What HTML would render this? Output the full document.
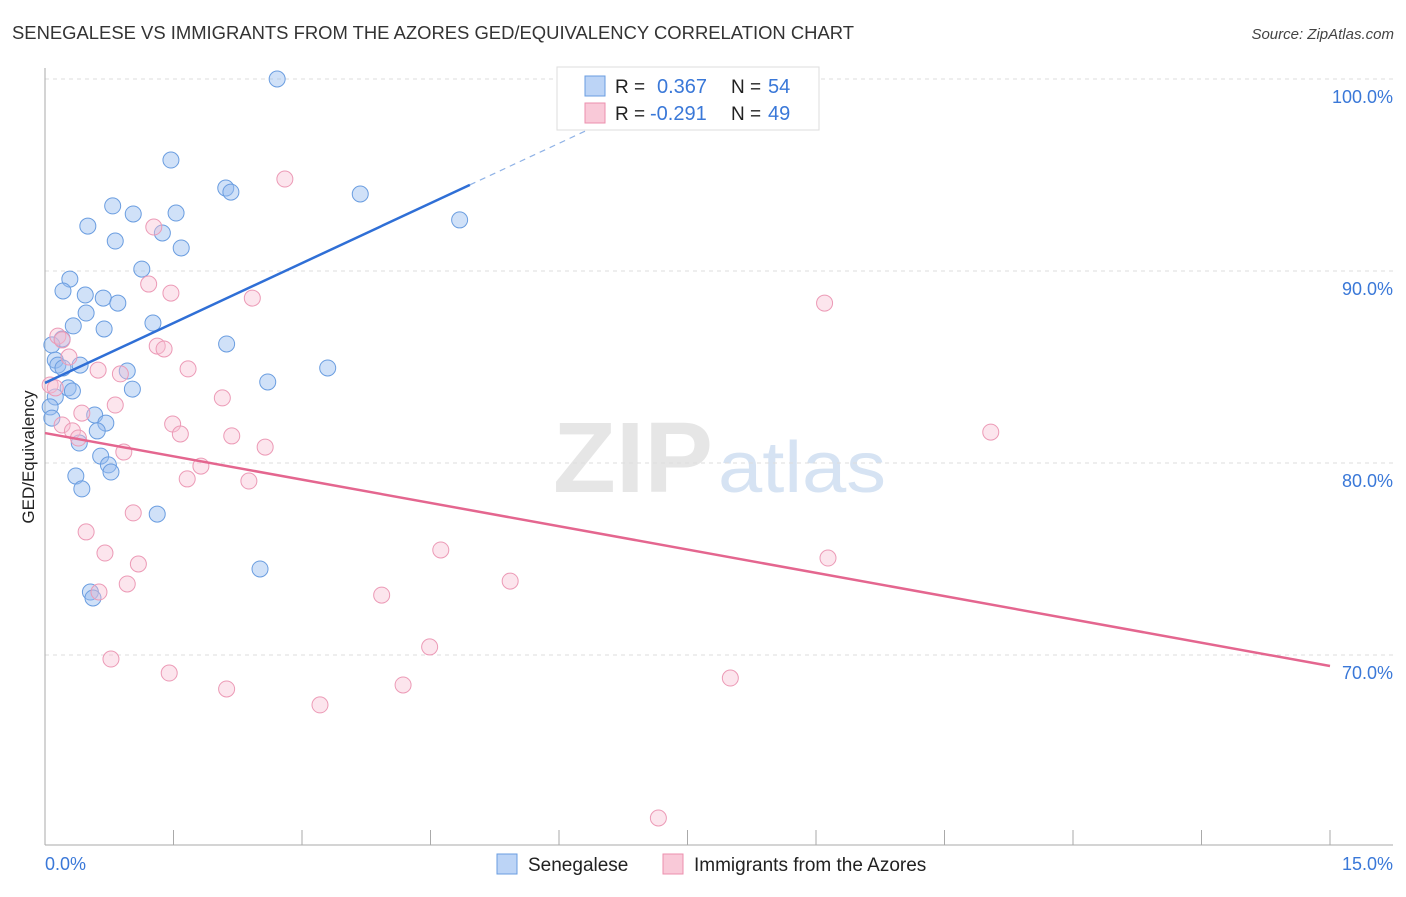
<!DOCTYPE html>
<html><head><meta charset="utf-8"><style>
body{margin:0;background:#fff;font-family:"Liberation Sans",sans-serif}
svg text{font-family:"Liberation Sans",sans-serif}
</style></head><body>
<svg id="chart" width="1406" height="892" xmlns="http://www.w3.org/2000/svg">
<text x="12" y="39" font-size="18" fill="#333" textLength="842" lengthAdjust="spacingAndGlyphs">SENEGALESE VS IMMIGRANTS FROM THE AZORES GED/EQUIVALENCY CORRELATION CHART</text>
<text x="1394" y="39" font-size="15" fill="#444" text-anchor="end" font-style="italic">Source: ZipAtlas.com</text>
<g>
<text x="553" y="492" font-size="100" fill="#e6e6e6" font-family="Liberation Serif" font-weight="bold" textLength="160" lengthAdjust="spacingAndGlyphs">ZIP</text>
<text x="718" y="492" font-size="72" fill="#d6e3f3" textLength="168" lengthAdjust="spacingAndGlyphs">atlas</text></g>
<g id="grid"></g><g id="axes"></g><g id="marks"></g>
<text transform="translate(34,457) rotate(-90)" font-size="17" fill="#222" text-anchor="middle">GED/Equivalency</text>
<text x="45" y="870" font-size="18" fill="#3a78d8">0.0%</text>
<text x="1393" y="870" font-size="18" fill="#3a78d8" text-anchor="end">15.0%</text>
<g>
<rect x="557" y="67" width="262" height="63" fill="#fff" stroke="#ddd"/>
<rect x="585" y="76" width="20" height="20" fill="#bcd4f6" stroke="#6a9de0"/>
<rect x="585" y="103" width="20" height="20" fill="#f9c9d8" stroke="#ec8fae"/>
<text x="615" y="93" font-size="19" fill="#222">R =</text>
<text x="657" y="93" font-size="20" fill="#3a78d8">0.367</text>
<text x="731" y="93" font-size="19" fill="#222">N =</text>
<text x="768" y="93" font-size="20" fill="#3a78d8">54</text>
<text x="615" y="120" font-size="19" fill="#222">R =</text>
<text x="650" y="120" font-size="20" fill="#3a78d8">-0.291</text>
<text x="731" y="120" font-size="19" fill="#222">N =</text>
<text x="768" y="120" font-size="20" fill="#3a78d8">49</text>
</g>
<g>
<rect x="497" y="854" width="20" height="20" fill="#bcd4f6" stroke="#6a9de0"/>
<text x="528" y="871" font-size="19" fill="#222">Senegalese</text>
<rect x="663" y="854" width="20" height="20" fill="#f9c9d8" stroke="#ec8fae"/>
<text x="694" y="871" font-size="19" fill="#222">Immigrants from the Azores</text>
</g>
</svg>
<script>
const yTicks=[100,90,80,70];
const yTickLabels=["100.0%","90.0%","80.0%","70.0%"];
const blueX=[2.71,1.47,2.11,2.17,3.68,0.79,1.53,1.03,0.50,4.84,1.37,0.82,1.59,1.13,0.29,0.21,0.47,0.68,0.85,0.48,1.26,0.33,0.69,2.12,0.20,0.08,0.12,0.15,0.41,0.96,2.60,3.30,1.02,0.27,0.32,0.12,0.06,0.08,0.58,0.71,0.61,0.40,0.65,0.74,0.77,0.36,0.43,1.31,2.51,0.53,0.56,0.21];
const blueY=[100.0,95.78,94.32,94.11,94.01,93.39,93.02,92.97,92.34,92.66,91.98,91.56,91.20,90.10,89.58,88.96,88.75,88.59,88.33,87.81,87.29,87.14,86.98,86.20,86.46,86.15,85.36,85.10,85.10,84.79,84.22,84.95,83.85,83.91,83.75,83.44,82.92,82.34,82.50,82.08,81.67,81.04,80.36,79.90,79.53,79.32,78.65,77.34,74.48,73.28,72.97,84.95];
const pinkX=[2.80,1.27,1.21,1.47,2.42,9.10,0.15,0.20,0.28,1.31,1.39,0.62,1.67,0.88,0.06,0.12,0.82,2.07,0.43,1.49,1.58,2.18,2.57,0.92,0.20,0.32,0.39,1.82,1.66,2.38,11.04,1.03,0.48,0.70,1.09,4.62,9.14,5.43,3.93,0.96,0.63,4.49,0.77,1.45,2.12,4.18,8.00,3.21,7.16];
const pinkY=[94.79,92.29,89.32,88.85,88.59,88.33,86.61,86.41,85.52,86.09,85.94,84.84,84.90,84.64,84.06,83.91,83.02,83.39,82.60,82.03,81.51,81.41,80.83,80.57,81.98,81.67,81.30,79.84,79.17,79.06,81.61,77.40,76.41,75.31,74.74,75.47,75.05,73.85,73.12,73.70,73.28,70.42,69.79,69.06,68.23,68.44,68.80,67.40,61.51];
const blueTrend=[84.17,2.08];
const pinkTrend=[81.56,-0.809];
const NS="http://www.w3.org/2000/svg";
const sx=v=>45+v/15*1285, sy=v=>79+(100-v)*19.2;
function mk(t,a,p){const e=document.createElementNS(NS,t);for(const k in a)e.setAttribute(k,a[k]);document.getElementById(p).appendChild(e);return e;}
yTicks.forEach((t,i)=>{
 const l=mk('line',{x1:45,x2:1393,y1:sy(t),y2:sy(t),stroke:'#ddd','stroke-dasharray':'4,4'},'grid');
 
 
 const tx=mk('text',{x:1393,y:sy(t)+24,'font-size':18,fill:'#3a78d8','text-anchor':'end'},'grid');
 tx.textContent=yTickLabels[i];
 
 
});
const ax=mk('line',{x1:45,x2:45,y1:68,y2:845,stroke:'#aaa'},'axes');


const bx=mk('line',{x1:45,x2:1393,y1:845,y2:845,stroke:'#aaa'},'axes');


for(let i=0;i<=10;i++){const t=mk('line',{x1:sx(i*1.5),x2:sx(i*1.5),y1:830,y2:845,stroke:'#aaa'},'axes');
 
 }
blueX.forEach((x,i)=>{const c=mk('circle',{cx:sx(x),cy:sy(blueY[i]),r:8,fill:'rgba(150,188,240,0.45)',stroke:'#6a9de0','stroke-width':1},'marks');
 
 });
pinkX.forEach((x,i)=>{const c=mk('circle',{cx:sx(x),cy:sy(pinkY[i]),r:8,fill:'rgba(248,190,210,0.4)',stroke:'#ec9ab6','stroke-width':1},'marks');
 
 });
const bl=mk('line',{x1:sx(0),y1:sy(blueTrend[0]),x2:sx(4.96),y2:sy(blueTrend[0]+blueTrend[1]*4.96),stroke:'#2f6fd6','stroke-width':2.5},'marks');


const bd=mk('line',{x1:sx(4.96),y1:sy(blueTrend[0]+blueTrend[1]*4.96),x2:sx(7.5),y2:sy(blueTrend[0]+blueTrend[1]*7.5),stroke:'#8fb2e6','stroke-width':1.2,'stroke-dasharray':'6,5'},'marks');


const pl=mk('line',{x1:sx(0),y1:sy(pinkTrend[0]),x2:sx(15),y2:sy(pinkTrend[0]+pinkTrend[1]*15),stroke:'#e4668f','stroke-width':2.5},'marks');


</script>
</body></html>
